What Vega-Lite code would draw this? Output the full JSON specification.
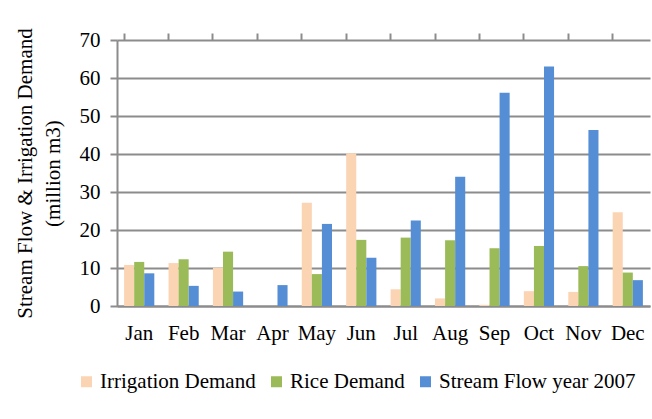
{
  "$schema": "https://vega.github.io/schema/vega-lite/v6.json",
  "width": 533,
  "height": 266,
  "autosize": {"type": "none"},
  "padding": {"left": 117, "top": 40, "right": 2, "bottom": 113},
  "background": "white",
  "config": {
    "view": {"stroke": null},
    "font": "Liberation Serif",
    "axis": {"labelFont": "Liberation Serif", "titleFont": "Liberation Serif", "labelColor": "black", "titleColor": "black"},
    "legend": {"labelFont": "Liberation Serif", "titleFont": "Liberation Serif", "labelLimit": 400}
  },
  "data": {
    "values": [
      {"month": "Jan", "series": "Irrigation Demand", "value": 10.8},
      {"month": "Jan", "series": "Rice Demand", "value": 11.6},
      {"month": "Jan", "series": "Stream Flow year 2007", "value": 8.6},
      {"month": "Feb", "series": "Irrigation Demand", "value": 11.3},
      {"month": "Feb", "series": "Rice Demand", "value": 12.3},
      {"month": "Feb", "series": "Stream Flow year 2007", "value": 5.3},
      {"month": "Mar", "series": "Irrigation Demand", "value": 10.1},
      {"month": "Mar", "series": "Rice Demand", "value": 14.3},
      {"month": "Mar", "series": "Stream Flow year 2007", "value": 3.8},
      {"month": "Apr", "series": "Irrigation Demand", "value": 0},
      {"month": "Apr", "series": "Rice Demand", "value": 0},
      {"month": "Apr", "series": "Stream Flow year 2007", "value": 5.5},
      {"month": "May", "series": "Irrigation Demand", "value": 27.2},
      {"month": "May", "series": "Rice Demand", "value": 8.4},
      {"month": "May", "series": "Stream Flow year 2007", "value": 21.6},
      {"month": "Jun", "series": "Irrigation Demand", "value": 40.2},
      {"month": "Jun", "series": "Rice Demand", "value": 17.4},
      {"month": "Jun", "series": "Stream Flow year 2007", "value": 12.7},
      {"month": "Jul", "series": "Irrigation Demand", "value": 4.4},
      {"month": "Jul", "series": "Rice Demand", "value": 18.0},
      {"month": "Jul", "series": "Stream Flow year 2007", "value": 22.5},
      {"month": "Aug", "series": "Irrigation Demand", "value": 2.0},
      {"month": "Aug", "series": "Rice Demand", "value": 17.3},
      {"month": "Aug", "series": "Stream Flow year 2007", "value": 34.0},
      {"month": "Sep", "series": "Irrigation Demand", "value": 0.3},
      {"month": "Sep", "series": "Rice Demand", "value": 15.2},
      {"month": "Sep", "series": "Stream Flow year 2007", "value": 56.1},
      {"month": "Oct", "series": "Irrigation Demand", "value": 3.9},
      {"month": "Oct", "series": "Rice Demand", "value": 15.8},
      {"month": "Oct", "series": "Stream Flow year 2007", "value": 63.0},
      {"month": "Nov", "series": "Irrigation Demand", "value": 3.7},
      {"month": "Nov", "series": "Rice Demand", "value": 10.5},
      {"month": "Nov", "series": "Stream Flow year 2007", "value": 46.3},
      {"month": "Dec", "series": "Irrigation Demand", "value": 24.7},
      {"month": "Dec", "series": "Rice Demand", "value": 8.8},
      {"month": "Dec", "series": "Stream Flow year 2007", "value": 6.8}
    ]
  },
  "layer": [
    {
      "mark": {"type": "bar"},
      "encoding": {
        "x": {
          "field": "month", "type": "nominal",
          "sort": ["Jan","Feb","Mar","Apr","May","Jun","Jul","Aug","Sep","Oct","Nov","Dec"],
          "scale": {"paddingInner": 0.32, "paddingOuter": 0.16},
          "axis": {
            "title": null, "labelAngle": 0, "labelFontSize": 21, "labelPadding": 16,
            "labelFont": "Liberation Serif", "labelColor": "black",
            "ticks": false, "domainColor": "#8c8c8c", "domainWidth": 2
          }
        },
        "xOffset": {
          "field": "series", "type": "nominal",
          "sort": ["Irrigation Demand", "Rice Demand", "Stream Flow year 2007"],
          "scale": {"paddingInner": 0, "paddingOuter": 0}
        },
        "y": {
          "field": "value", "type": "quantitative",
          "scale": {"domain": [0, 70], "nice": false},
          "axis": {
            "values": [0,10,20,30,40,50,60,70],
            "title": ["Stream Flow & Irrigation Demand", "(million m3)"],
            "titleFont": "Liberation Serif", "titleColor": "black",
            "titleFontSize": 21, "titleFontWeight": "normal", "titleLineHeight": 28,
            "titlePadding": 16,
            "labelFont": "Liberation Serif", "labelColor": "black",
            "labelFontSize": 21, "labelPadding": 10,
            "grid": true, "gridColor": "#8c8c8c", "gridWidth": 2,
            "domainColor": "#8c8c8c", "domainWidth": 2,
            "tickColor": "#8c8c8c", "tickWidth": 2, "tickSize": 7
          }
        },
        "color": {
          "field": "series", "type": "nominal",
          "scale": {
            "domain": ["Irrigation Demand", "Rice Demand", "Stream Flow year 2007"],
            "range": ["#FBD4B4", "#9BBB59", "#558ED5"]
          },
          "legend": {
            "title": null, "orient": "none", "direction": "horizontal",
            "legendX": -41, "legendY": 331,
            "symbolType": "square", "symbolSize": 121, "symbolStrokeWidth": 0,
            "labelFontSize": 21, "labelFont": "Liberation Serif", "labelColor": "black",
            "labelLimit": 400,
            "labelOffset": 3, "columnPadding": 10
          }
        }
      }
    },
    {
      "mark": {"type": "rule", "opacity": 0},
      "encoding": {
        "x": {
          "field": "month", "type": "nominal",
          "sort": ["Jan","Feb","Mar","Apr","May","Jun","Jul","Aug","Sep","Oct","Nov","Dec"],
          "axis": {
            "title": null, "labels": false, "domain": false, "bandPosition": 0,
            "ticks": true, "tickSize": 7, "tickWidth": 2, "tickColor": "#8c8c8c"
          }
        }
      }
    }
  ],
  "resolve": {"axis": {"x": "independent"}}
}
